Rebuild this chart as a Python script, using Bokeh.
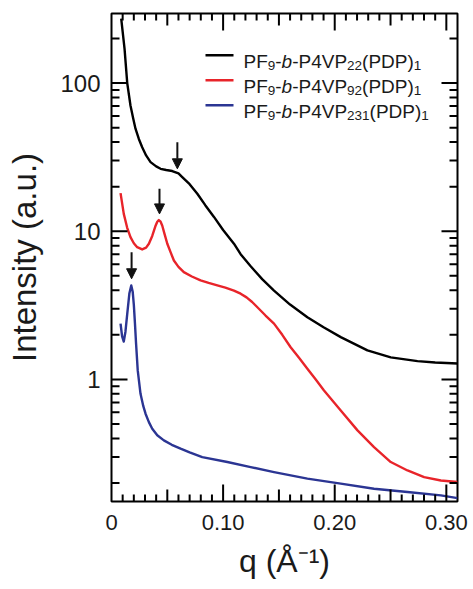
import numpy as np
from bokeh.plotting import figure
from bokeh.models import (FixedTicker, CustomJSTickFormatter,
                          Arrow, NormalHead, ColumnDataSource)
from bokeh.core.properties import value
from bokeh.embed import file_html
from bokeh.resources import INLINE

# ---------------- data ----------------
q_black = [0.0087, 0.0117, 0.0141, 0.0170, 0.0195, 0.0215, 0.0245, 0.0275, 0.0310, 0.0350,
           0.0400, 0.0440, 0.0490, 0.0544, 0.0600, 0.0634, 0.0700, 0.0769, 0.0840, 0.0918,
           0.1000, 0.1097, 0.1157, 0.1247, 0.1350, 0.1456, 0.1600, 0.1755, 0.1900, 0.2054,
           0.2293, 0.2502, 0.2742, 0.2900, 0.3100]
i_black = [272, 170, 100, 70.6, 57.5, 49.2, 42.0, 36.9, 32.5, 29.3,
           27.4, 26.4, 25.9, 25.5, 24.6, 23.2, 20.8, 17.9, 15.0, 12.5,
           10.2, 8.24, 7.0, 5.8, 4.75, 3.98, 3.2, 2.63, 2.25, 1.93,
           1.57, 1.41, 1.33, 1.30, 1.28]

q_red = [0.0081, 0.0110, 0.0140, 0.0170, 0.0200, 0.0230, 0.0275, 0.0310, 0.0335, 0.0365,
         0.0395, 0.0410, 0.0424, 0.0440, 0.0455, 0.0475, 0.0500, 0.0530, 0.0559, 0.0600,
         0.0648, 0.0720, 0.0798, 0.0870, 0.0948, 0.1020, 0.1097, 0.1157, 0.1210, 0.1260,
         0.1307, 0.1380, 0.1456, 0.1530, 0.1605, 0.1680, 0.1755, 0.1830, 0.1904, 0.2054,
         0.2204, 0.2352, 0.2502, 0.2652, 0.2801, 0.2951, 0.3100]
i_red = [18.1, 13.1, 10.6, 9.12, 8.3, 7.81, 7.54, 7.75, 8.24, 9.3,
         10.9, 11.6, 11.9, 11.6, 10.9, 9.6, 8.24, 7.2, 6.35, 5.75,
         5.30, 4.95, 4.66, 4.48, 4.31, 4.16, 3.98, 3.79, 3.58, 3.33,
         3.07, 2.70, 2.38, 2.00, 1.65, 1.40, 1.18, 1.0, 0.843, 0.618,
         0.453, 0.349, 0.277, 0.243, 0.219, 0.208, 0.203]

q_blue = [0.0081, 0.0095, 0.0110, 0.0125, 0.0141, 0.0160, 0.0177, 0.0190, 0.0200, 0.0210,
          0.0220, 0.0235, 0.0260, 0.0285, 0.0305, 0.0335, 0.0365, 0.0410, 0.0469, 0.0540,
          0.0619, 0.0700, 0.0813, 0.1038, 0.1247, 0.1456, 0.1755, 0.2054, 0.2352, 0.2652,
          0.2951, 0.3100]
i_blue = [2.38, 1.95, 1.80, 2.1, 2.77, 3.8, 4.31, 3.9, 3.2, 2.4,
          1.75, 1.15, 0.80, 0.66, 0.587, 0.515, 0.465, 0.42, 0.388, 0.362,
          0.341, 0.322, 0.299, 0.277, 0.256, 0.237, 0.214, 0.198, 0.183, 0.174,
          0.165, 0.158]

series_colors = ["#000000", "#e8242a", "#2b3593"]
series_subscripts = ["22", "92", "231"]

arrow_q = [0.059, 0.043, 0.018]
arrow_top = [39.9, 19.4, 7.23]
arrow_bottom = [26.4, 13.1, 4.78]

x_ticks = [0.0, 0.1, 0.2, 0.3]
x_tick_labels = ["0", "0.10", "0.20", "0.30"]
x_mid_ticks = [0.05, 0.15, 0.25]
y_ticks = [1, 10, 100]
y_tick_labels = ["1", "10", "100"]

X0, X1 = 0.0, 0.31
Y0, Y1 = 0.15, 295.0

# ---------------- layout ----------------
FW, FH = 346, 488
FONT = "Liberation Sans"
INK = "#1a1a1a"

p = figure(frame_width=FW, frame_height=FH, x_range=(X0, X1), y_range=(Y0, Y1),
           y_axis_type="log", output_backend="svg", toolbar_location=None,
           min_border_left=111, min_border_top=13, min_border_right=16, min_border_bottom=86,
           background_fill_color="white", border_fill_color="white",
           outline_line_color="#000000", outline_line_width=2)
p.grid.visible = False

def fmt(ticks, labels):
    return CustomJSTickFormatter(args=dict(tks=ticks, lbls=labels), code="""
        for (let i = 0; i < tks.length; i++) {
            if (Math.abs(tks[i] - tick) <= 1e-9 * Math.max(1, Math.abs(tick))) return lbls[i];
        }
        return '';
    """)

x_minor = [i / 100 for i in range(0, 32) if i % 5 != 0]
y_minor = [m * 10.0 ** e for e in (-1, 0, 1, 2) for m in range(2, 10) if Y0 <= m * 10.0 ** e <= Y1]

def style_axis(ax):
    ax.axis_line_color = None
    ax.major_tick_in = 0
    ax.major_tick_out = 0
    ax.minor_tick_in = 0
    ax.minor_tick_out = 0
    ax.major_tick_line_color = None
    ax.minor_tick_line_color = None

# bottom
xa = p.xaxis[0]
xa.ticker = FixedTicker(ticks=x_ticks, minor_ticks=x_minor)
xa.formatter = fmt(x_ticks, x_tick_labels)
style_axis(xa)
xa.major_label_text_font = FONT
xa.major_label_text_font_size = "22px"
xa.major_label_text_color = INK
xa.major_label_standoff = 13
xa.axis_label = "q (Å\u207b\u00b9)"
xa.axis_label_text_font = FONT
xa.axis_label_text_font_size = "32px"
xa.axis_label_text_font_style = "normal"
xa.axis_label_text_color = INK
xa.axis_label_standoff = 10

# left
ya = p.yaxis[0]
ya.ticker = FixedTicker(ticks=y_ticks, minor_ticks=y_minor)
ya.formatter = fmt(y_ticks, y_tick_labels)
style_axis(ya)
ya.major_label_text_font = FONT
ya.major_label_text_font_size = "24px"
ya.major_label_text_color = INK
ya.major_label_standoff = 11
ya.axis_label = "Intensity (a.u.)"
ya.axis_label_text_font = FONT
ya.axis_label_text_font_size = "33px"
ya.axis_label_text_font_style = "normal"
ya.axis_label_text_color = INK
ya.axis_label_standoff = 14

# ---------------- curves ----------------
for qs, ii, c in [(q_black, i_black, series_colors[0]),
                  (q_red, i_red, series_colors[1]),
                  (q_blue, i_blue, series_colors[2])]:
    p.line(qs, ii, line_color=c, line_width=2.4, line_join="round")

# ---------------- inward ticks on all four sides: one NaN-broken line ----------------
dec = FH / np.log10(Y1 / Y0)
def ylen(px):
    return float(10 ** (px / dec))
def xlen(px):
    return float(px / FW * (X1 - X0))

tx_, ty_ = [], []
def seg(xa_, ya_, xb_, yb_):
    tx_.extend([xa_, xb_, np.nan]); ty_.extend([ya_, yb_, np.nan])

for ticks, L in [(x_ticks, 17), (x_mid_ticks, 12), (x_minor, 7)]:
    for t in ticks:
        if X0 < t < X1:
            seg(t, Y0, t, Y0 * ylen(L))
            seg(t, Y1, t, Y1 / ylen(L))
for ticks, L in [(y_ticks, 16), (y_minor, 8)]:
    for t in ticks:
        if Y0 < t < Y1:
            seg(X0, t, X0 + xlen(L), t)
            seg(X1, t, X1 - xlen(L), t)
p.line(np.array(tx_), np.array(ty_), line_color="#000000", line_width=2)

# ---------------- arrows ----------------
for xq, yt, yb in zip(arrow_q, arrow_top, arrow_bottom):
    p.add_layout(Arrow(x_start=xq, y_start=yt, x_end=xq, y_end=yb,
                       line_color="#111111", line_width=2,
                       end=NormalHead(size=10, fill_color="#111111", line_color="#111111")))

# ---------------- legend (manual, with sub-scripts and italic b) ----------------
def fx(px):
    return X0 + px / FW * (X1 - X0)

def fy(py):
    return 10 ** (np.log10(Y1) - py / dec)

ADV = {'P': 667, 'F': 611, '-': 333, 'b': 556, 'V': 667, '(': 333, ')': 333, 'D': 722}
def width(s, size):
    return sum(ADV.get(ch, 556) for ch in s) * size / 1000.0

MAIN, SUB = 19.0, 13.5
normal = dict(x=[], y=[], text=[])
italic = dict(x=[], y=[], text=[])
sub = dict(x=[], y=[], text=[])
lx0, lx1, tx = 94, 122, 132
for r, (c, s) in enumerate(zip(series_colors, series_subscripts)):
    base = 47.7 + 25 * r
    p.line([fx(lx0), fx(lx1)], [fy(base - 6)] * 2, line_color=c, line_width=2.4)
    pieces = [("PF", "n"), ("9", "s"), ("-", "n"), ("b", "i"), ("-P4VP", "n"),
              (s, "s"), ("(PDP)", "n"), ("1", "s")]
    x = tx
    for t, kind in pieces:
        if kind == "s":
            sub["x"].append(fx(x)); sub["y"].append(fy(base + 4.5)); sub["text"].append(t)
            x += width(t, SUB)
        else:
            d = normal if kind == "n" else italic
            d["x"].append(fx(x)); d["y"].append(fy(base)); d["text"].append(t)
            x += width(t, MAIN)

for d, size, style in [(normal, MAIN, "normal"), (italic, MAIN, "italic"), (sub, SUB, "normal")]:
    p.text(x="x", y="y", text="text", source=ColumnDataSource(d),
           text_font=value(FONT), text_font_size=value(f"{size}px"),
           text_font_style=style, text_color=INK,
           text_align="left", text_baseline="alphabetic")

open("out.html", "w").write(file_html(p, INLINE))
